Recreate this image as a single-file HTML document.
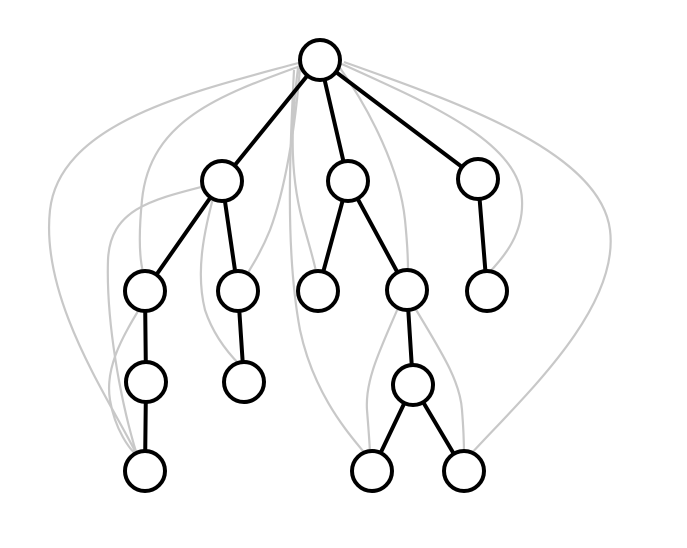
<!DOCTYPE html>
<html><head><meta charset="utf-8"><style>html,body{margin:0;padding:0;background:#fff}svg{display:block}</style></head>
<body>
<svg width="687" height="548" viewBox="0 0 687 548" xmlns="http://www.w3.org/2000/svg">
<g fill="none" stroke="#c8c8c8" stroke-width="2.2">
<path d="M302,62 C200,90 60,120 50,210 C40,300 110,400 137,455"/>
<path d="M303,65 C220,95 150,120 142,200 C138,240 140,260 143,272"/>
<path d="M205,186 C150,200 110,210 108,260 C106,320 120,400 137,455"/>
<path d="M140,308 C120,340 105,370 110,400 C115,430 130,450 137,455"/>
<path d="M300,68 C295,130 285,190 270,230 C260,255 252,265 248,273"/>
<path d="M213,198 C205,230 195,270 205,310 C215,340 235,360 240,365"/>
<path d="M298,68 C290,130 290,180 305,230 C312,255 315,265 316,272"/>
<path d="M294,70 C290,150 285,250 300,330 C315,400 355,440 366,455"/>
<path d="M340,68 C370,110 400,170 405,220 C408,250 408,262 408,270"/>
<path d="M342,64 C420,100 520,140 522,200 C524,240 495,265 490,272"/>
<path d="M344,62 C450,100 600,150 610,230 C620,310 520,400 470,455"/>
<path d="M398,308 C380,350 365,380 367,410 C369,435 370,450 370,455"/>
<path d="M415,308 C440,350 460,380 462,410 C464,435 464,450 464,455"/>
</g>
<g stroke="#000" stroke-width="4" fill="none">
<path d="M320,60 L222,181 M320,60 L348,181 M320,60 L478,179 M222,181 L145,291 M222,181 L238,291 M348,181 L318,291 M348,181 L407,290 M478,179 L487,291 M145,291 L146,382 M238,291 L244,382 M407,290 L413,385 M146,382 L145,471 M413,385 L372,471 M413,385 L464,471"/>
</g>
<g stroke="#000" stroke-width="4" fill="#fff">
<circle cx="320" cy="60" r="20"/>
<circle cx="222" cy="181" r="20"/><circle cx="348" cy="181" r="20"/><circle cx="478" cy="179" r="20"/>
<circle cx="145" cy="291" r="20"/><circle cx="238" cy="291" r="20"/><circle cx="318" cy="291" r="20"/><circle cx="407" cy="290" r="20"/><circle cx="487" cy="291" r="20"/>
<circle cx="146" cy="382" r="20"/><circle cx="244" cy="382" r="20"/><circle cx="413" cy="385" r="20"/>
<circle cx="145" cy="471" r="20"/><circle cx="372" cy="471" r="20"/><circle cx="464" cy="471" r="20"/>
</g>
</svg>
</body></html>
